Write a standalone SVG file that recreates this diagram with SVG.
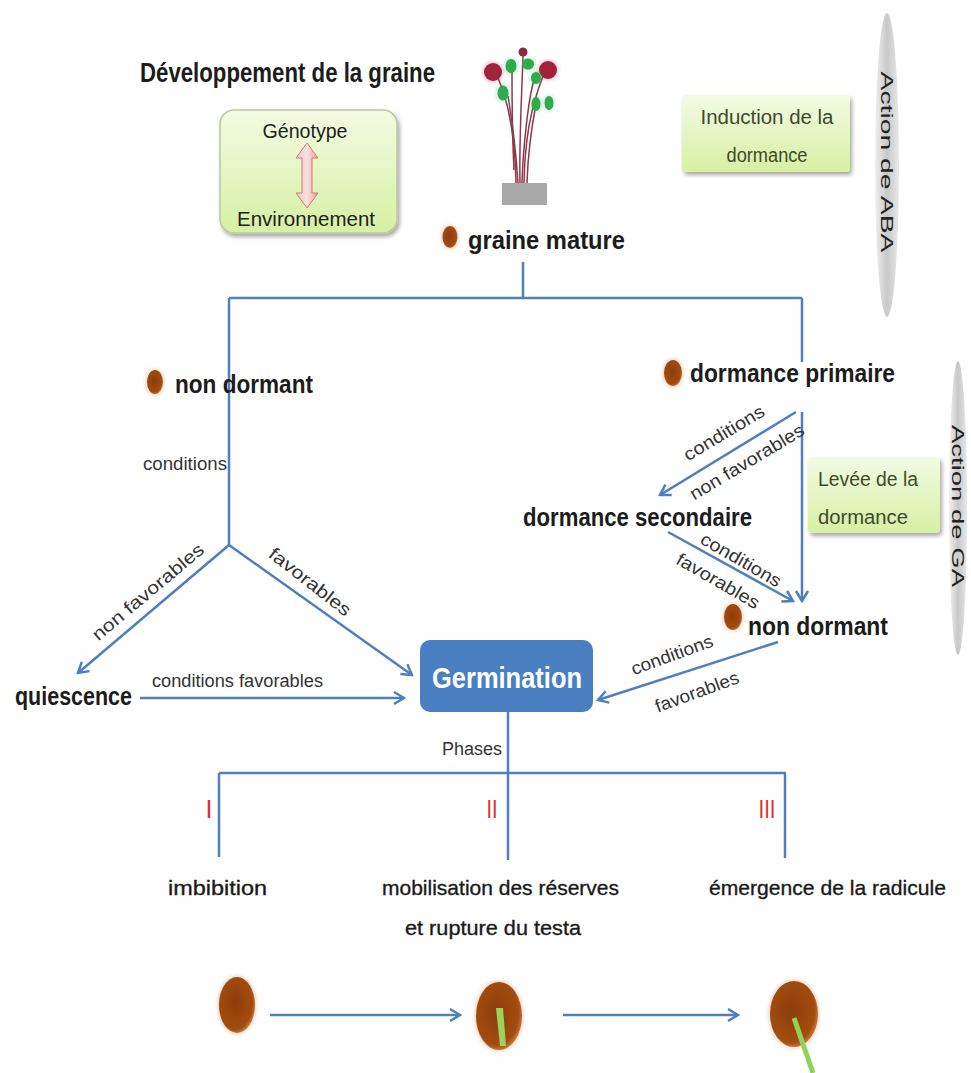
<svg xmlns="http://www.w3.org/2000/svg" width="971" height="1073" viewBox="0 0 971 1073">
<defs>
<style>
.ln{stroke:#4f7fbd;stroke-width:2.5;fill:none}
.b{font-family:"Liberation Sans",Arial,sans-serif;font-weight:bold;fill:#1c1c1c}
.n{font-family:"Liberation Sans",Arial,sans-serif;fill:#1e1e1e}
.lab{font-family:"Liberation Sans",Arial,sans-serif;font-size:18px;fill:#333}
.box{font-family:"Liberation Sans",Arial,sans-serif;font-size:20px;fill:#3d4a2c}
.rom{font-family:"Liberation Sans",Arial,sans-serif;font-size:25px;fill:#d83030}
.vt{font-family:"Liberation Sans",Arial,sans-serif;font-size:17px;fill:#222}
.ph{font-family:"Liberation Sans",Arial,sans-serif;font-size:21px;fill:#1a1a1a;stroke:#1a1a1a;stroke-width:0.35}
</style>
<marker id="ah" markerUnits="userSpaceOnUse" markerWidth="16" markerHeight="16" viewBox="0 0 16 16" refX="14" refY="8" orient="auto">
<path d="M4,2 L14,8 L4,14" fill="none" stroke="#4f7fbd" stroke-width="2.5"/>
</marker>
<linearGradient id="gbox" x1="0" y1="0" x2="0" y2="1">
<stop offset="0" stop-color="#f3fbe4"/>
<stop offset="1" stop-color="#d6f0a4"/>
</linearGradient>
<linearGradient id="gell" x1="0" y1="0" x2="1" y2="0">
<stop offset="0" stop-color="#f0f0f0"/>
<stop offset="0.5" stop-color="#c8c8c8"/>
<stop offset="1" stop-color="#e8e8e8"/>
</linearGradient>
<linearGradient id="gpink" x1="0" y1="0" x2="1" y2="0">
<stop offset="0" stop-color="#f6c4c4"/>
<stop offset="0.5" stop-color="#fbe0e0"/>
<stop offset="1" stop-color="#e99a9a"/>
</linearGradient>
<radialGradient id="gseed" cx="0.45" cy="0.45" r="0.6">
<stop offset="0" stop-color="#8e3d0c"/>
<stop offset="0.8" stop-color="#a24c12"/>
<stop offset="1" stop-color="#d88a40"/>
</radialGradient>
<filter id="sh" x="-10%" y="-10%" width="130%" height="140%">
<feGaussianBlur in="SourceAlpha" stdDeviation="2"/>
<feOffset dx="2" dy="3" result="o"/>
<feComponentTransfer><feFuncA type="linear" slope="0.35"/></feComponentTransfer>
<feMerge><feMergeNode/><feMergeNode in="SourceGraphic"/></feMerge>
</filter>
<filter id="glow" x="-50%" y="-50%" width="200%" height="200%">
<feGaussianBlur in="SourceGraphic" stdDeviation="2.5" result="bl"/>
<feComponentTransfer in="bl" result="bl2"><feFuncA type="linear" slope="0.45"/></feComponentTransfer>
<feMerge><feMergeNode in="bl2"/><feMergeNode in="SourceGraphic"/></feMerge>
</filter>
</defs>
<rect width="971" height="1073" fill="#ffffff"/>

<g id="connectors">
<line class="ln" x1="523" y1="262" x2="523" y2="298"/>
<line class="ln" x1="229" y1="298" x2="802" y2="298" stroke-width="3"/>
<line class="ln" x1="229" y1="298" x2="229" y2="545"/>
<line class="ln" x1="802" y1="298" x2="802" y2="362"/>
<line class="ln" x1="229" y1="545" x2="78" y2="673" marker-end="url(#ah)"/>
<line class="ln" x1="229" y1="545" x2="412" y2="675" marker-end="url(#ah)"/>
<line class="ln" x1="140" y1="698" x2="404" y2="698" marker-end="url(#ah)"/>
<line class="ln" x1="796" y1="412" x2="660" y2="495" marker-end="url(#ah)"/>
<line class="ln" x1="802" y1="412" x2="802" y2="601" marker-end="url(#ah)"/>
<line class="ln" x1="668" y1="532" x2="793" y2="601" marker-end="url(#ah)"/>
<line class="ln" x1="778" y1="642" x2="598" y2="700" marker-end="url(#ah)"/>
<line class="ln" x1="508" y1="712" x2="508" y2="860"/>
<line class="ln" x1="219" y1="773" x2="786" y2="773" stroke-width="4"/>
<line class="ln" x1="219" y1="773" x2="219" y2="857"/>
<line class="ln" x1="785" y1="773" x2="785" y2="858"/>
<line class="ln" x1="270" y1="1015" x2="460" y2="1015" stroke-width="3" marker-end="url(#ah)"/>
<line class="ln" x1="563" y1="1015" x2="738" y2="1015" stroke-width="3" marker-end="url(#ah)"/>
</g>

<g id="title">
<text class="b" x="140" y="82" font-size="27" textLength="295" lengthAdjust="spacingAndGlyphs">Développement de la graine</text>
</g>

<g id="genotype">
<rect x="220" y="110" width="177" height="123" rx="14" fill="url(#gbox)" stroke="#b9c9a0" stroke-width="1.5" filter="url(#sh)"/>
<text class="n" x="305" y="138" font-size="20" text-anchor="middle" textLength="85" lengthAdjust="spacingAndGlyphs" fill="#3d4a2c">Génotype</text>
<path d="M307,143 L318,158 L312,158 L312,193 L318,193 L307,208 L296,193 L302,193 L302,158 L296,158 Z" fill="url(#gpink)" stroke="#d27878" stroke-width="1"/>
<text class="n" x="306" y="226" font-size="21" text-anchor="middle" textLength="138" lengthAdjust="spacingAndGlyphs" fill="#3d4a2c">Environnement</text>
</g>

<g id="plant">
<rect x="502" y="183" width="45" height="22" fill="#a8a8a8"/>
<g stroke="#8c3a48" stroke-width="1.5" fill="none">
<path d="M516,183 C515,140 510,105 498,78"/>
<path d="M520,183 C519,140 522,90 523,56"/>
<path d="M524,183 C525,140 530,110 543,76"/>
<path d="M518,183 C516,150 512,120 508,96"/>
<path d="M527,183 C528,150 532,125 536,104"/>
<path d="M522,183 C523,150 528,100 534,80"/>
<path d="M514,170 C512,130 512,90 512,70"/>
</g>
<circle cx="493" cy="72" r="9" fill="#a0203a" filter="url(#glow)"/>
<circle cx="548" cy="70" r="9" fill="#a0203a" filter="url(#glow)"/>
<circle cx="523" cy="52" r="4.5" fill="#8c2a40"/>
<g fill="#2eaa50" filter="url(#glow)">
<ellipse cx="511" cy="66" rx="5.5" ry="7"/>
<ellipse cx="528" cy="64" rx="6" ry="5.5"/>
<ellipse cx="536" cy="78" rx="5" ry="6"/>
<ellipse cx="503" cy="93" rx="5.5" ry="7.5"/>
<ellipse cx="536" cy="104" rx="4.5" ry="7"/>
<ellipse cx="549" cy="103" rx="4.5" ry="7"/>
</g>
</g>

<g id="graine-mature">
<ellipse cx="450" cy="237" rx="7.5" ry="11" fill="url(#gseed)" filter="url(#glow)"/>
<text class="b" x="468" y="249" font-size="25" textLength="157" lengthAdjust="spacingAndGlyphs">graine mature</text>
</g>

<g id="induction">
<rect x="682" y="95" width="168" height="77" rx="4" fill="url(#gbox)" filter="url(#sh)"/>
<text class="box" x="767" y="124" text-anchor="middle" textLength="133" lengthAdjust="spacingAndGlyphs">Induction de la</text>
<text class="box" x="767" y="162" text-anchor="middle" textLength="81" lengthAdjust="spacingAndGlyphs">dormance</text>
</g>

<g id="aba">
<ellipse cx="887" cy="165" rx="12" ry="152" fill="url(#gell)"/>
<text class="vt" transform="translate(887,162) rotate(90)" x="0" y="6" text-anchor="middle" textLength="181" lengthAdjust="spacingAndGlyphs">Action de ABA</text>
</g>

<g id="non-dormant-1">
<ellipse cx="155" cy="382" rx="8" ry="12" fill="url(#gseed)" filter="url(#glow)"/>
<text class="b" x="175" y="393" font-size="26" textLength="138" lengthAdjust="spacingAndGlyphs">non dormant</text>
</g>

<g id="dormance-primaire">
<ellipse cx="673" cy="373" rx="9" ry="13" fill="url(#gseed)" filter="url(#glow)"/>
<text class="b" x="690" y="382" font-size="26" textLength="205" lengthAdjust="spacingAndGlyphs">dormance primaire</text>
</g>

<g id="levee">
<rect x="808" y="457" width="132" height="76" rx="4" fill="url(#gbox)" filter="url(#sh)"/>
<text class="box" x="818" y="486" textLength="100" lengthAdjust="spacingAndGlyphs">Levée de la</text>
<text class="box" x="818" y="524" textLength="90" lengthAdjust="spacingAndGlyphs">dormance</text>
</g>

<g id="ga">
<ellipse cx="958" cy="508" rx="9" ry="147" fill="url(#gell)"/>
<text class="vt" transform="translate(958,506) rotate(90)" x="0" y="6" text-anchor="middle" textLength="162" lengthAdjust="spacingAndGlyphs">Action de GA</text>
</g>

<g id="dormance-secondaire">
<text class="b" x="523" y="526" font-size="26" textLength="229" lengthAdjust="spacingAndGlyphs">dormance secondaire</text>
</g>

<g id="non-dormant-2">
<ellipse cx="733" cy="617" rx="9" ry="13" fill="url(#gseed)" filter="url(#glow)"/>
<text class="b" x="748" y="635" font-size="26" textLength="140" lengthAdjust="spacingAndGlyphs">non dormant</text>
</g>

<g id="quiescence">
<text class="b" x="15" y="705" font-size="26" textLength="117" lengthAdjust="spacingAndGlyphs">quiescence</text>
</g>

<g id="germination">
<rect x="420" y="640" width="173" height="72" rx="10" fill="#4a7fc2"/>
<text x="507" y="688" font-family="Liberation Sans, Arial, sans-serif" font-weight="bold" font-size="29" fill="#ffffff" text-anchor="middle" textLength="150" lengthAdjust="spacingAndGlyphs">Germination</text>
</g>

<g id="labels">
<text class="lab" x="227" y="470" text-anchor="end" textLength="84" lengthAdjust="spacingAndGlyphs">conditions</text>
<text class="lab" transform="translate(148,592) rotate(-40)" x="0" y="6" text-anchor="middle" textLength="140" lengthAdjust="spacingAndGlyphs">non favorables</text>
<text class="lab" transform="translate(310,582) rotate(38)" x="0" y="6" text-anchor="middle" textLength="99" lengthAdjust="spacingAndGlyphs">favorables</text>
<text class="lab" x="152" y="687" textLength="171" lengthAdjust="spacingAndGlyphs">conditions favorables</text>
<text class="lab" transform="translate(724,433) rotate(-31)" x="0" y="6" text-anchor="middle" textLength="91" lengthAdjust="spacingAndGlyphs">conditions</text>
<text class="lab" transform="translate(747,462) rotate(-31)" x="0" y="6" text-anchor="middle" textLength="130" lengthAdjust="spacingAndGlyphs">non favorables</text>
<text class="lab" transform="translate(741,560) rotate(30)" x="0" y="6" text-anchor="middle" textLength="90" lengthAdjust="spacingAndGlyphs">conditions</text>
<text class="lab" transform="translate(718,581) rotate(30)" x="0" y="6" text-anchor="middle" textLength="93" lengthAdjust="spacingAndGlyphs">favorables</text>
<text class="lab" transform="translate(672,655) rotate(-20)" x="0" y="6" text-anchor="middle" textLength="86" lengthAdjust="spacingAndGlyphs">conditions</text>
<text class="lab" transform="translate(697,692) rotate(-20)" x="0" y="6" text-anchor="middle" textLength="88" lengthAdjust="spacingAndGlyphs">favorables</text>
<text class="lab" x="502" y="755" text-anchor="end" textLength="60" lengthAdjust="spacingAndGlyphs">Phases</text>
</g>

<g id="phase-1">
<text class="rom" x="209" y="818" text-anchor="middle">I</text>
<text class="ph" x="168" y="895" textLength="99" lengthAdjust="spacingAndGlyphs">imbibition</text>
</g>
<g id="phase-2">
<text class="rom" x="492" y="818" text-anchor="middle" textLength="11" lengthAdjust="spacingAndGlyphs">II</text>
<text class="ph" x="382" y="895" textLength="237" lengthAdjust="spacingAndGlyphs">mobilisation  des réserves</text>
<text class="ph" x="405" y="935" textLength="176" lengthAdjust="spacingAndGlyphs">et rupture du testa</text>
</g>
<g id="phase-3">
<text class="rom" x="767" y="818" text-anchor="middle" textLength="17" lengthAdjust="spacingAndGlyphs">III</text>
<text class="ph" x="709" y="895" textLength="237" lengthAdjust="spacingAndGlyphs">émergence de la radicule</text>
</g>

<g id="seed-1">
<ellipse cx="237" cy="1005" rx="18" ry="28" fill="url(#gseed)" filter="url(#glow)"/>
</g>
<g id="seed-2">
<ellipse cx="499" cy="1016" rx="23" ry="34" fill="url(#gseed)" filter="url(#glow)"/>
<path d="M496,1008 L503,1008 L506,1046 L500,1046 Z" fill="#9ad25a"/>
</g>
<g id="seed-3">
<ellipse cx="794" cy="1014" rx="24" ry="33" fill="url(#gseed)" filter="url(#glow)"/>
<line x1="794" y1="1018" x2="813" y2="1073" stroke="#8fd35a" stroke-width="5"/>
</g>
</svg>
